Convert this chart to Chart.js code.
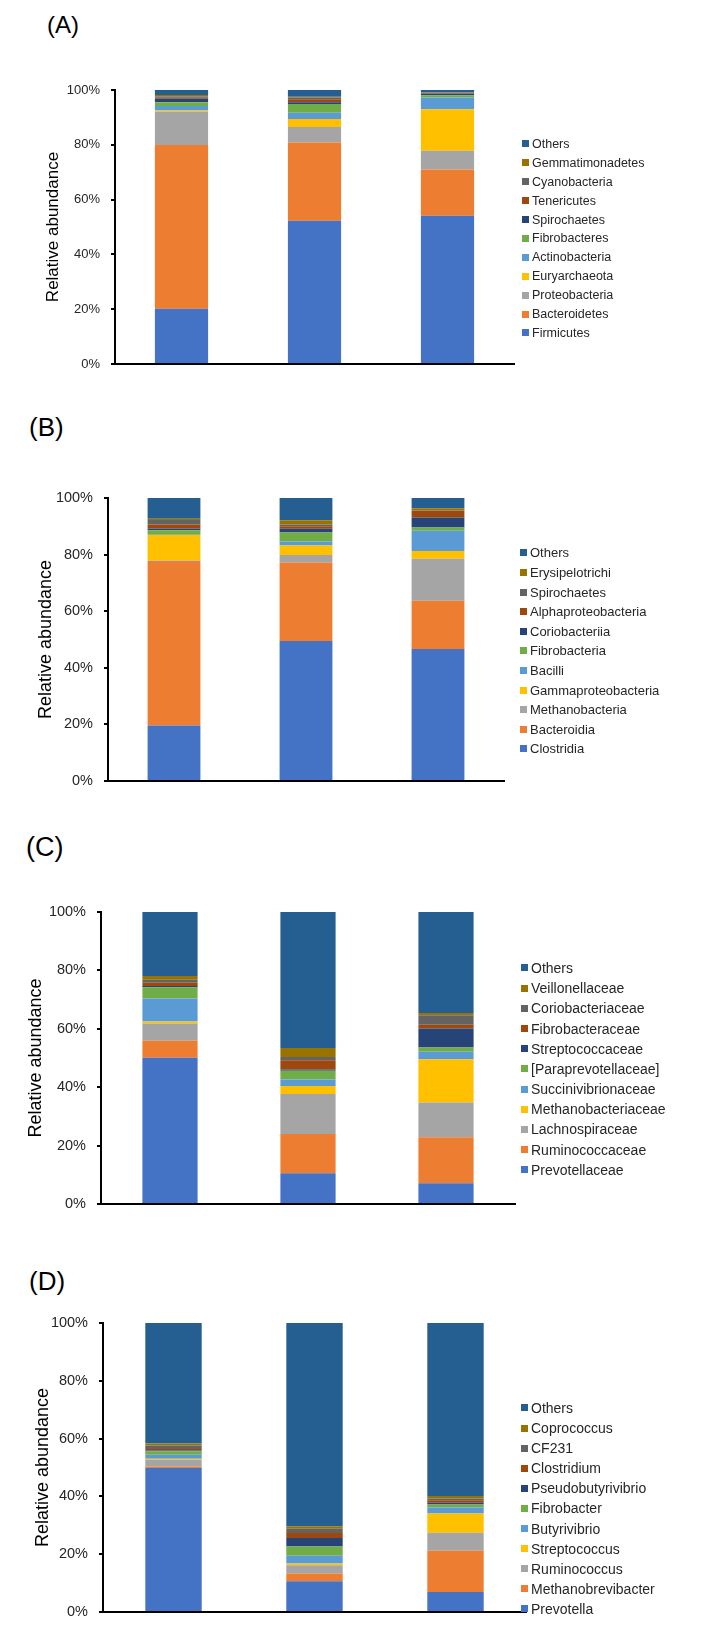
<!DOCTYPE html>
<html>
<head>
<meta charset="utf-8">
<title>Relative abundance</title>
<script src="https://cdn.jsdelivr.net/npm/chart.js@4.4.1/dist/chart.umd.min.js"></script>
<style>
  body { margin: 0; background: #fff; width: 707px; height: 1633px; position: relative; overflow: hidden;
         font-family: "Liberation Sans", Arial, sans-serif; }
  canvas { position: absolute; left: 0; }
  .tag { position: absolute; color: #000; line-height: 1; }
  .legend { position: absolute; color: #262626; }
  .legend div { display: flex; align-items: center; white-space: nowrap; }
  .legend span { display: inline-block; width: 7px; height: 7px; margin-right: 3px; flex: none; }
</style>
</head>
<body>
<div class="tag" style="left:47px;top:13px;font-size:24px">(A)</div>
<div class="tag" style="left:29px;top:414px;font-size:26px">(B)</div>
<div class="tag" style="left:26px;top:834px;font-size:27px">(C)</div>
<div class="tag" style="left:29px;top:1268px;font-size:26px">(D)</div>

<canvas id="chartA" width="707" height="400" style="top:0px"></canvas>
<canvas id="chartB" width="707" height="420" style="top:400px"></canvas>
<canvas id="chartC" width="707" height="420" style="top:820px"></canvas>
<canvas id="chartD" width="707" height="393" style="top:1240px"></canvas>

<div class="legend" id="legendA"></div>
<div class="legend" id="legendB"></div>
<div class="legend" id="legendC"></div>
<div class="legend" id="legendD"></div>

<script>
// three samples, no axis labels shown in the figure
const samples = ['Sample 1', 'Sample 2', 'Sample 3'];
const tickValues = [0, 20, 40, 60, 80, 100];

// (A) phylum level, bottom to top
const phyla = ['Firmicutes', 'Bacteroidetes', 'Proteobacteria', 'Euryarchaeota', 'Actinobacteria',
  'Fibrobacteres', 'Spirochaetes', 'Tenericutes', 'Cyanobacteria', 'Gemmatimonadetes', 'Others'];
const phylaS1 = [20.2, 59.7, 12.2, 0.4, 1.7, 1.3, 1.3, 0.4, 0.4, 0.6, 1.8];
const phylaS2 = [52.3, 28.5, 5.7, 2.9, 2.3, 3.2, 0.6, 1.1, 0.7, 0.2, 2.5];
const phylaS3 = [54.1, 16.9, 6.8, 15.2, 4.3, 0.8, 0.4, 0.1, 0.5, 0.1, 0.8];

// (B) class level
const classes = ['Clostridia', 'Bacteroidia', 'Methanobacteria', 'Gammaproteobacteria', 'Bacilli',
  'Fibrobacteria', 'Coriobacteriia', 'Alphaproteobacteria', 'Spirochaetes', 'Erysipelotrichi', 'Others'];
const classesS1 = [19.6, 58.1, 0.2, 9.0, 0.1, 1.6, 0.6, 1.4, 1.6, 0.5, 7.3];
const classesS2 = [49.5, 27.7, 2.7, 3.3, 1.4, 3.2, 1.3, 0.9, 0.6, 1.5, 7.9];
const classesS3 = [46.6, 17.1, 14.8, 2.8, 7.1, 1.2, 3.5, 2.4, 0.2, 0.7, 3.6];

// (C) family level
const families = ['Prevotellaceae', 'Ruminococcaceae', 'Lachnospiraceae', 'Methanobacteriaceae',
  'Succinivibrionaceae', '[Paraprevotellaceae]', 'Streptococcaceae', 'Fibrobacteraceae',
  'Coriobacteriaceae', 'Veillonellaceae', 'Others'];
const familiesS1 = [50.1, 5.8, 5.9, 0.7, 7.9, 3.8, 0.5, 1.1, 1.0, 1.3, 21.9];
const familiesS2 = [10.5, 13.5, 13.7, 2.7, 2.2, 3.0, 0.5, 3.1, 1.1, 3.1, 46.6];
const familiesS3 = [7.1, 15.8, 11.9, 14.8, 2.5, 1.5, 6.5, 1.3, 3.2, 0.8, 34.6];

// (D) genus level
const genera = ['Prevotella', 'Methanobrevibacter', 'Ruminococcus', 'Streptococcus', 'Butyrivibrio',
  'Fibrobacter', 'Pseudobutyrivibrio', 'Clostridium', 'CF231', 'Coprococcus', 'Others'];
const generaS1 = [49.8, 0.5, 2.4, 0.3, 1.4, 1.2, 0.3, 0.5, 1.2, 0.7, 41.7];
const generaS2 = [10.6, 2.7, 2.9, 0.6, 2.7, 3.2, 2.9, 1.7, 1.5, 0.9, 70.3];
const generaS3 = [6.9, 14.3, 6.2, 6.7, 2.1, 1.0, 0.6, 0.9, 0.6, 0.8, 59.9];

const palette = ['#4472C4', '#ED7D31', '#A5A5A5', '#FFC000', '#5B9BD5', '#70AD47',
  '#264478', '#9E480E', '#636363', '#997300', '#255E91'];

const fontFamily = '"Liberation Sans", Arial, sans-serif';
Chart.defaults.font.family = fontFamily;

function buildChart(id, names, rows, box) {
  const datasets = names.map((name, i) => ({
    label: name,
    data: rows.map(r => r[i]),
    backgroundColor: palette[i],
    borderWidth: 0
  }));

  return new Chart(document.getElementById(id), {
    type: 'bar',
    data: { labels: samples, datasets },
    options: {
      responsive: false,
      animation: false,
      devicePixelRatio: 1,
      layout: { padding: { top: box.top, right: box.right, bottom: box.bottom, left: 0 } },
      plugins: { legend: { display: false }, tooltip: { enabled: false } },
      datasets: { bar: { barPercentage: 1, categoryPercentage: 0.4 } },
      scales: {
        x: {
          stacked: true,
          grid: { display: false, drawTicks: false },
          ticks: { display: false },
          border: { color: '#000', width: 2 },
          afterFit: s => { s.height = 0; }
        },
        y: {
          stacked: true,
          min: 0,
          max: 100,
          afterBuildTicks: s => { s.ticks = tickValues.map(v => ({ value: v })); },
          ticks: {
            callback: v => v + '%',
            color: '#262626',
            padding: 11,
            font: { size: box.tickSize }
          },
          grid: { drawOnChartArea: false, drawTicks: true, tickLength: 4, color: '#000', lineWidth: 2 },
          border: { color: '#000', width: 2 },
          title: {
            display: true,
            text: 'Relative abundance',
            color: '#000',
            font: { size: box.titleSize },
            padding: { top: box.titleX - box.titleSize * 0.6, bottom: 0 }
          },
          afterFit: s => { s.width = box.left; }
        }
      }
    }
  });
}

function buildLegend(id, names, pos) {
  const el = document.getElementById(id);
  el.style.left = pos.x + 'px';
  el.style.top = (pos.y - pos.step / 2) + 'px';
  el.style.fontSize = pos.size + 'px';
  for (let i = names.length - 1; i >= 0; i--) {
    const row = document.createElement('div');
    row.style.height = pos.step + 'px';
    const sw = document.createElement('span');
    sw.style.background = palette[i];
    row.appendChild(sw);
    row.appendChild(document.createTextNode(names[i]));
    el.appendChild(row);
  }
}

buildChart('chartA', phyla, [phylaS1, phylaS2, phylaS3],
  { left: 115, top: 90, right: 193, bottom: 36, tickSize: 13, titleSize: 17, titleX: 53 });
buildChart('chartB', classes, [classesS1, classesS2, classesS3],
  { left: 108, top: 98, right: 203, bottom: 39, tickSize: 14.5, titleSize: 18, titleX: 46 });
buildChart('chartC', families, [familiesS1, familiesS2, familiesS3],
  { left: 101, top: 92, right: 192, bottom: 36, tickSize: 14.5, titleSize: 18, titleX: 36 });
buildChart('chartD', genera, [generaS1, generaS2, generaS3],
  { left: 103, top: 83, right: 181, bottom: 21, tickSize: 14.5, titleSize: 18, titleX: 43 });

buildLegend('legendA', phyla, { x: 522, y: 144, step: 18.9, size: 12.5 });
buildLegend('legendB', classes, { x: 520, y: 553, step: 19.6, size: 13 });
buildLegend('legendC', families, { x: 521, y: 968, step: 20.2, size: 14 });
buildLegend('legendD', genera, { x: 521, y: 1408, step: 20.1, size: 14 });
</script>
</body>
</html>
